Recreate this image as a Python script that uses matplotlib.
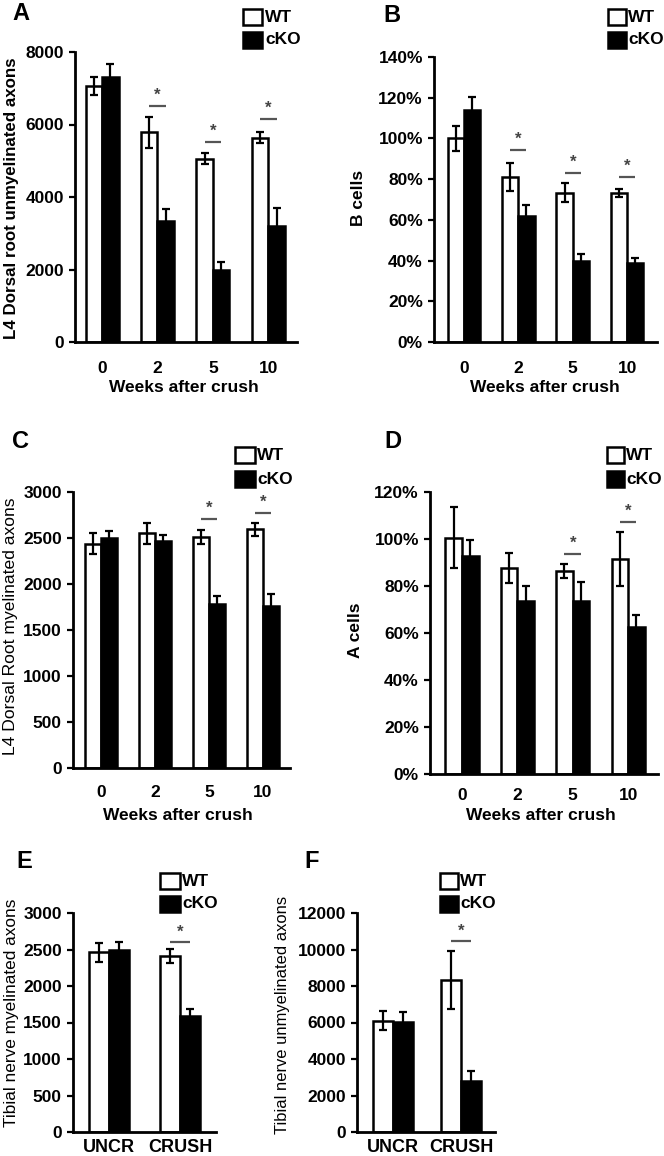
import matplotlib
matplotlib.use('Agg')
import matplotlib.pyplot as plt
from matplotlib.patches import Rectangle
import numpy as np

plt.rcParams['font.family'] = ['Liberation Sans', 'DejaVu Sans']

# ---------------- data ----------------
weeks = ['0', '2', '5', '10']
conditions = ['UNCR', 'CRUSH']
series_names = ['WT', 'cKO']

a_wt = [7060, 5780, 5060, 5630]
a_wt_err = [240, 420, 150, 150]
a_ko = [7320, 3350, 2000, 3200]
a_ko_err = [340, 310, 210, 490]
a_sig = [None, 6500, 5510, 6150]
a_ticks = [0, 2000, 4000, 6000, 8000]

b_wt = [100, 81, 73.4, 73.4]
b_wt_err = [6, 6.8, 4.5, 2]
b_ko = [114, 62, 39.8, 39]
b_ko_err = [6.5, 5.4, 3.5, 2.5]
b_sig = [None, 94.3, 82.8, 81.2]
b_ticks = [0, 20, 40, 60, 80, 100, 120, 140]

c_wt = [2440, 2550, 2511, 2597]
c_wt_err = [110, 110, 75, 70]
c_ko = [2505, 2465, 1783, 1765]
c_ko_err = [70, 65, 90, 125]
c_sig = [None, None, 2705, 2773]
c_ticks = [0, 500, 1000, 1500, 2000, 2500, 3000]

d_wt = [100.5, 87.6, 86.2, 91.5]
d_wt_err = [13, 6.5, 3, 11.3]
d_ko = [92.8, 73.7, 73.7, 62.4]
d_ko_err = [6.7, 6.4, 8.2, 5.4]
d_sig = [None, None, 93.5, 107.3]
d_ticks = [0, 20, 40, 60, 80, 100, 120]

e_wt = [2460, 2414]
e_wt_err = [126, 95]
e_ko = [2487, 1594]
e_ko_err = [110, 92]
e_sig = [None, 2597]
e_ticks = [0, 500, 1000, 1500, 2000, 2500, 3000]

f_wt = [6100, 8333]
f_wt_err = [520, 1600]
f_ko = [6007, 2802]
f_ko_err = [570, 550]
f_sig = [None, 10440]
f_ticks = [0, 2000, 4000, 6000, 8000, 10000, 12000]

# ---------------- layout helpers ----------------
W, H = 664, 1156
fig = plt.figure(figsize=(W / 100, H / 100), dpi=100)
fig.patch.set_facecolor('white')


def fx(px):
    return px / W


def fy(py):
    return 1 - py / H


def make_axes(l, t, r, b):
    return fig.add_axes([fx(l), fy(b), (r - l) / W, (b - t) / H])


def panel(ax, cats, wt, wt_err, ko, ko_err, sig, ticks, ticklabels,
          xlim, width, xpad):
    x = np.arange(len(cats))
    ax.bar(x - width / 2, wt, width, color='white', edgecolor='black',
           linewidth=1.8, zorder=2)
    ax.bar(x + width / 2, ko, width, color='black', edgecolor='black',
           linewidth=1.8, zorder=2)
    ax.errorbar(x - width / 2, wt, yerr=wt_err, fmt='none', ecolor='black',
                elinewidth=1.6, capsize=3, capthick=1.6, zorder=3)
    ax.errorbar(x + width / 2, ko, yerr=ko_err, fmt='none', ecolor='black',
                elinewidth=1.6, capsize=3, capthick=1.6, zorder=3)
    top = ticks[-1]
    for xi, s in zip(x, sig):
        if s is None:
            continue
        ax.plot([xi - width / 2, xi + width / 2], [s, s], color='#555555',
                lw=1.6, zorder=3, solid_capstyle='butt')
        ax.text(xi, s + top * 0.012, '*', ha='center', va='bottom',
                fontsize=12, color='#444444', fontweight='bold')
    ax.set_xlim(*xlim)
    ax.set_ylim(0, top)
    ax.set_xticks(x)
    ax.set_xticklabels(cats, fontsize=12.5, fontweight='bold')
    ax.set_yticks(ticks)
    ax.set_yticklabels(ticklabels, fontsize=12.5, fontweight='bold')
    ax.tick_params(axis='x', length=0, pad=xpad)
    ax.tick_params(axis='y', direction='out', length=4, width=1.6, pad=4)
    for sp in ['top', 'right']:
        ax.spines[sp].set_visible(False)
    for sp in ['left', 'bottom']:
        ax.spines[sp].set_linewidth(2)
    ax.set_facecolor('white')


def legend(x0, x1, ywt, yko, tx):
    h = 16
    fig.add_artist(Rectangle((fx(x0), fy(ywt + h / 2)), (x1 - x0) / W, h / H,
                             transform=fig.transFigure, facecolor='white',
                             edgecolor='black', lw=1.8))
    fig.add_artist(Rectangle((fx(x0), fy(yko + h / 2)), (x1 - x0) / W, h / H,
                             transform=fig.transFigure, facecolor='black',
                             edgecolor='black', lw=1.8))
    fig.text(fx(tx), fy(ywt), series_names[0], ha='left', va='center',
             fontsize=12.5, fontweight='bold')
    fig.text(fx(tx), fy(yko), series_names[1], ha='left', va='center',
             fontsize=12.5, fontweight='bold')


def ylab(text, x, y, bold=False, size=11.5):
    fig.text(fx(x), fy(y), text, rotation=90, ha='center', va='center',
             fontsize=size, fontweight='bold' if bold else 'normal')


def xlab(text, x, y):
    fig.text(fx(x), fy(y), text, ha='center', va='center', fontsize=12.5,
             fontweight='bold')


def letter(text, x, y):
    fig.text(fx(x), fy(y), text, ha='left', va='center', fontsize=17,
             fontweight='bold')


# ---------------- panel A ----------------
axA = make_axes(75, 52, 297, 342)
panel(axA, weeks, a_wt, a_wt_err, a_ko, a_ko_err, a_sig, a_ticks,
      [str(t) for t in a_ticks], (-0.49, 3.52), 0.3, 14)
ylab('L4 Dorsal root unmyelinated axons', 12, 198, bold=True, size=12.2)
xlab('Weeks after crush', 184, 387)
letter('A', 12, 13)
legend(243, 262, 17, 40, 265)

# ---------------- panel B ----------------
axB = make_axes(434, 57, 657, 342)
panel(axB, weeks, b_wt, b_wt_err, b_ko, b_ko_err, b_sig, b_ticks,
      [f'{t}%' for t in b_ticks], (-0.55, 3.55), 0.3, 14)
ylab('B cells', 359, 198, bold=True, size=12.5)
xlab('Weeks after crush', 545, 387)
letter('B', 383, 15)
legend(608, 626, 17, 40, 628)

# ---------------- panel C ----------------
axC = make_axes(73, 492, 290, 768)
panel(axC, weeks, c_wt, c_wt_err, c_ko, c_ko_err, c_sig, c_ticks,
      [str(t) for t in c_ticks], (-0.52, 3.5), 0.3, 12)
ylab('L4 Dorsal Root myelinated axons', 11, 626, size=12.6)
xlab('Weeks after crush', 178, 815)
letter('C', 12, 441)
legend(235, 255, 455, 479, 257)

# ---------------- panel D ----------------
axD = make_axes(430, 492, 658, 774)
panel(axD, weeks, d_wt, d_wt_err, d_ko, d_ko_err, d_sig, d_ticks,
      [f'{t}%' for t in d_ticks], (-0.58, 3.54), 0.3, 10)
ylab('A cells', 355, 630, bold=True, size=12.5)
xlab('Weeks after crush', 541, 815)
letter('D', 384, 441)
legend(607, 624, 455, 479, 626)

# ---------------- panel E ----------------
axE = make_axes(73, 913, 216, 1132)
panel(axE, conditions, e_wt, e_wt_err, e_ko, e_ko_err, e_sig, e_ticks,
      [str(t) for t in e_ticks], (-0.51, 1.51), 0.28, 5)
for lab in axE.get_xticklabels():
    lab.set_fontsize(13)
ylab('Tibial nerve myelinated axons', 12, 1013, size=12.4)
letter('E', 16, 861)
legend(160, 180, 881, 904, 182)

# ---------------- panel F ----------------
axF = make_axes(357, 913, 495, 1132)
panel(axF, conditions, f_wt, f_wt_err, f_ko, f_ko_err, f_sig, f_ticks,
      [str(t) for t in f_ticks], (-0.525, 1.5), 0.29, 5)
for lab in axF.get_xticklabels():
    lab.set_fontsize(13)
ylab('Tibial nerve unmyelinated axons', 282, 1015, size=11.9)
letter('F', 304, 861)
legend(440, 458, 881, 904, 460)

fig.savefig('out.png', dpi=100, facecolor='white')
